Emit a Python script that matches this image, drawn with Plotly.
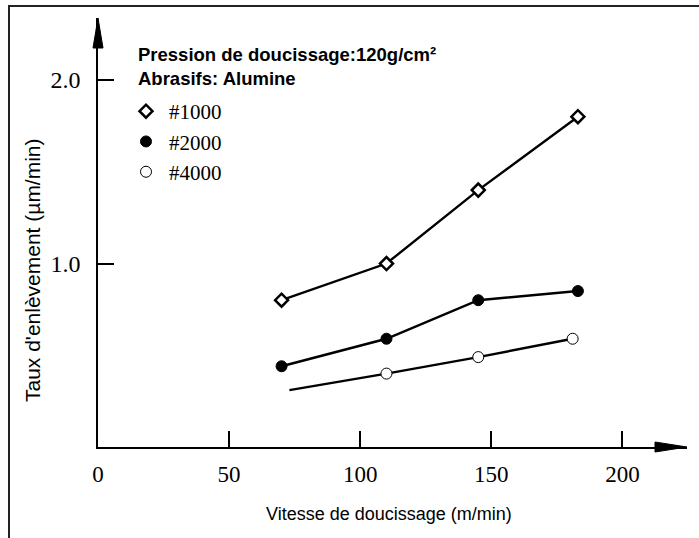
import plotly.graph_objects as go

# ---- data ----
x_1000 = [70, 110, 145, 183]
y_1000 = [0.80, 1.00, 1.40, 1.80]
x_2000 = [70, 110, 145, 183]
y_2000 = [0.44, 0.59, 0.80, 0.85]
x_4000_line = [73, 110, 145, 181]
y_4000_line = [0.31, 0.40, 0.49, 0.59]
x_4000 = [110, 145, 181]
y_4000 = [0.40, 0.49, 0.59]

x_ticks = [0, 50, 100, 150, 200]
y_ticks = [1, 2]
y_ticktext = ["1.0", "2.0"]

W, H = 699, 538
L, R, T, B = 98, 12, 18, 91
PW = W - L - R
PH = H - T - B
XMAX = 224.6
YMAX = 2.338

def px(p):
    return (p - L) / PW

def py(p):
    return (H - B - p) / PH

fig = go.Figure()

line_style = dict(color="black", width=2.4)
fig.add_trace(go.Scatter(x=x_1000, y=y_1000, mode="lines", line=line_style,
                         showlegend=False, hoverinfo="skip"))
fig.add_trace(go.Scatter(x=x_2000, y=y_2000, mode="lines", line=line_style,
                         showlegend=False, hoverinfo="skip"))
fig.add_trace(go.Scatter(x=x_4000_line, y=y_4000_line, mode="lines", line=line_style,
                         showlegend=False, hoverinfo="skip"))

fig.add_trace(go.Scatter(x=x_1000, y=y_1000, mode="markers", name="#1000",
                         marker=dict(symbol="diamond", size=10, color="white",
                                     line=dict(color="black", width=2.5))))
fig.add_trace(go.Scatter(x=x_2000, y=y_2000, mode="markers", name="#2000",
                         marker=dict(symbol="circle", size=11, color="black",
                                     line=dict(color="black", width=1))))
fig.add_trace(go.Scatter(x=x_4000, y=y_4000, mode="markers", name="#4000",
                         marker=dict(symbol="circle", size=11, color="white",
                                     line=dict(color="black", width=1))))

serif = "Liberation Serif, Times New Roman, serif"
sans = "Liberation Sans, Arial, sans-serif"

fig.update_layout(
    width=W, height=H,
    margin=dict(l=L, r=R, t=T, b=B, pad=0),
    paper_bgcolor="white", plot_bgcolor="white",
    showlegend=True,
    legend=dict(x=px(123), y=py(91), xanchor="left", yanchor="top",
                font=dict(family=serif, size=21, color="black"),
                bgcolor="rgba(0,0,0,0)", borderwidth=0, itemwidth=36,
                tracegroupgap=0),
    xaxis=dict(range=[0, XMAX], showgrid=False, zeroline=False,
               showline=True, linecolor="black", linewidth=1.5,
               ticks="inside", ticklen=16, tickwidth=1.5, tickcolor="black",
               tickvals=x_ticks, ticktext=[str(v) for v in x_ticks],
               tickfont=dict(family=serif, size=23, color="black"),
               ticklabelstandoff=6),
    yaxis=dict(range=[0, YMAX], showgrid=False, zeroline=False,
               showline=True, linecolor="black", linewidth=1.5,
               ticks="inside", ticklen=16, tickwidth=1.5, tickcolor="black",
               tickvals=y_ticks, ticktext=y_ticktext,
               tickfont=dict(family=serif, size=24, color="black"),
               ticklabelstandoff=11),
)

annotations = [
    dict(x=px(136), y=py(66), xref="paper", yref="paper", xanchor="left", yanchor="middle",
         showarrow=False, align="left",
         text="<b>Pression de doucissage:120g/cm²</b><br><b>Abrasifs: Alumine</b>",
         font=dict(family=sans, size=18.5, color="black")),
    dict(x=px(389), y=py(514), xref="paper", yref="paper", xanchor="center", yanchor="middle",
         showarrow=False, text="Vitesse de doucissage (m/min)",
         font=dict(family=sans, size=18, color="black")),
    dict(x=px(32), y=py(270), xref="paper", yref="paper", xanchor="center", yanchor="middle",
         showarrow=False, text="Taux d'enlèvement (µm/min)", textangle=-90,
         font=dict(family=sans, size=21, color="black")),
]
fig.update_layout(annotations=annotations)

shapes = [
    # frame (top and left visible)
    dict(type="rect", xref="paper", yref="paper",
         x0=px(9), x1=px(760), y0=py(600), y1=py(6),
         line=dict(color="#222", width=2), fillcolor="rgba(0,0,0,0)", layer="below"),
    # x axis arrowhead
    dict(type="path", xref="paper", yref="paper", xsizemode="pixel", ysizemode="pixel",
         xanchor=1, yanchor=0, path="M0,0 L-32,5 L-32,-5 Z",
         fillcolor="black", line=dict(color="black", width=1)),
    # y axis arrowhead
    dict(type="path", xref="paper", yref="paper", xsizemode="pixel", ysizemode="pixel",
         xanchor=0, yanchor=1, path="M0,0 L-5,-30 L5,-30 Z",
         fillcolor="black", line=dict(color="black", width=1)),
]
fig.update_layout(shapes=shapes)

fig.write_html("out.html")
